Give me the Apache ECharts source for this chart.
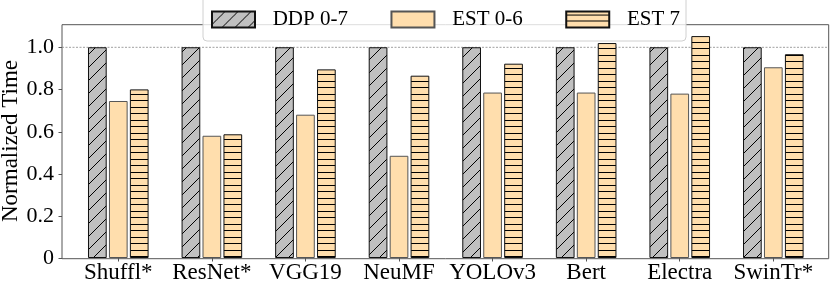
<!DOCTYPE html>
<html>
<head>
<meta charset="utf-8">
<script src="https://cdn.jsdelivr.net/npm/echarts@6/dist/echarts.min.js"></script>
<style>html,body{margin:0;padding:0;background:#fff}#c{width:830px;height:284px}</style>
</head>
<body>
<div id="c"></div>
<script>
const categories = ['Shuffl*', 'ResNet*', 'VGG19', 'NeuMF', 'YOLOv3', 'Bert', 'Electra', 'SwinTr*'];
const seriesNames = ['DDP 0-7', 'EST 0-6', 'EST 7'];
const ddp = [1, 1, 1, 1, 1, 1, 1, 1];
const est06 = [0.745, 0.58, 0.68, 0.485, 0.785, 0.785, 0.78, 0.905];
const est7 = [0.80, 0.587, 0.895, 0.865, 0.922, 1.02, 1.053, 0.967];
const yTicks = [0, 0.2, 0.4, 0.6, 0.8, 1.0];
const yAxisTitle = 'Normalized Time';
const refLine = [[0, 1], [1, 1]];

const FONT = 'Liberation Serif';
const GRAY = '#c0c0c0';
const PEACH = '#ffdead';

function diagPattern(fill, line) {
  const c = document.createElement('canvas');
  c.width = 13; c.height = 13;
  const g = c.getContext('2d');
  g.fillStyle = fill; g.fillRect(0, 0, 13, 13);
  g.strokeStyle = line; g.lineWidth = 1;
  for (const o of [-13, 0, 13]) {
    g.beginPath(); g.moveTo(o, 13); g.lineTo(o + 13, 0); g.stroke();
  }
  return c;
}
function horizPattern(fill, line) {
  const c = document.createElement('canvas');
  c.width = 4; c.height = 13;
  const g = c.getContext('2d');
  g.fillStyle = fill; g.fillRect(0, 0, 4, 13);
  g.fillStyle = line;
  g.fillRect(0, 3, 4, 1); g.fillRect(0, 9, 4, 1);
  return c;
}

const chart = echarts.init(document.getElementById('c'), null, {renderer: 'canvas'});
const yMax = 1.107;
const option = {
  animation: false,
  backgroundColor: '#fff',
  textStyle: {fontFamily: FONT},
  graphic: [{
    type: 'text', x: 11, y: 141, rotation: Math.PI / 2, silent: true,
    style: {text: yAxisTitle, font: '23px "Liberation Serif"', fill: '#000', align: 'center', verticalAlign: 'middle'}
  }],
  legend: {
    data: seriesNames,
    left: 203, top: -4,
    padding: [13, 6, 11, 8],
    itemWidth: 43, itemHeight: 16, itemGap: 42.5,
    icon: 'rect',
    backgroundColor: 'rgba(255,255,255,0.8)',
    borderColor: '#d0d0d0', borderWidth: 1, borderRadius: 4,
    formatter: name => '{g|}' + name,
    textStyle: {
      fontFamily: FONT, fontSize: 21, color: '#000',
      rich: {g: {width: 12.7, fontSize: 21, fontFamily: FONT}}
    },
    z: 10
  },
  grid: [
    {left: 71.5, right: 9.9, top: 24.7, bottom: 25.3},
    {left: 62, right: 1.3, top: 24.7, bottom: 25.3, show: true, borderColor: '#555', borderWidth: 1, backgroundColor: 'transparent'}
  ],
  xAxis: [
    {
      gridIndex: 0, type: 'category', data: categories,
      axisLine: {show: false},
      axisTick: {show: true, alignWithLabel: true, length: 3.5, lineStyle: {color: '#555'}},
      axisLabel: {interval: 0, fontFamily: FONT, fontSize: 23, color: '#000', margin: 3}
    },
    {gridIndex: 1, type: 'value', min: 0, max: 1, show: false}
  ],
  yAxis: [
    {gridIndex: 0, type: 'value', min: 0, max: yMax, show: false},
    {
      gridIndex: 1, type: 'value', min: 0, max: yMax,
      axisLine: {show: false},
      splitLine: {show: false},
      axisTick: {show: true, length: 3.5, customValues: yTicks, lineStyle: {color: '#555'}},
      axisLabel: {
        customValues: yTicks, fontFamily: FONT, fontSize: 22, color: '#000', margin: 8,
        formatter: v => (v === 0 ? '0' : v.toFixed(1))
      }
    }
  ],
  series: [
    {
      type: 'line', xAxisIndex: 1, yAxisIndex: 1, data: refLine,
      symbol: 'none', silent: true, z: 1,
      lineStyle: {type: [2, 1.5], color: '#888', width: 0.8}
    },
    {
      name: seriesNames[0], type: 'bar', xAxisIndex: 0, yAxisIndex: 0, data: ddp,
      barWidth: 18.7, barGap: '12%', z: 3,
      itemStyle: {color: {image: diagPattern(GRAY, '#000'), repeat: 'repeat'}, borderColor: '#111', borderWidth: 1}
    },
    {
      name: seriesNames[1], type: 'bar', xAxisIndex: 0, yAxisIndex: 0, data: est06,
      barWidth: 18.7, barGap: '12%', z: 3,
      itemStyle: {color: PEACH, borderColor: '#555', borderWidth: 1}
    },
    {
      name: seriesNames[2], type: 'bar', xAxisIndex: 0, yAxisIndex: 0, data: est7,
      barWidth: 18.7, barGap: '12%', z: 3,
      itemStyle: {color: {image: horizPattern(PEACH, '#000'), repeat: 'repeat'}, borderColor: '#111', borderWidth: 1}
    }
  ]
};
chart.setOption(option);
</script>
</body>
</html>
